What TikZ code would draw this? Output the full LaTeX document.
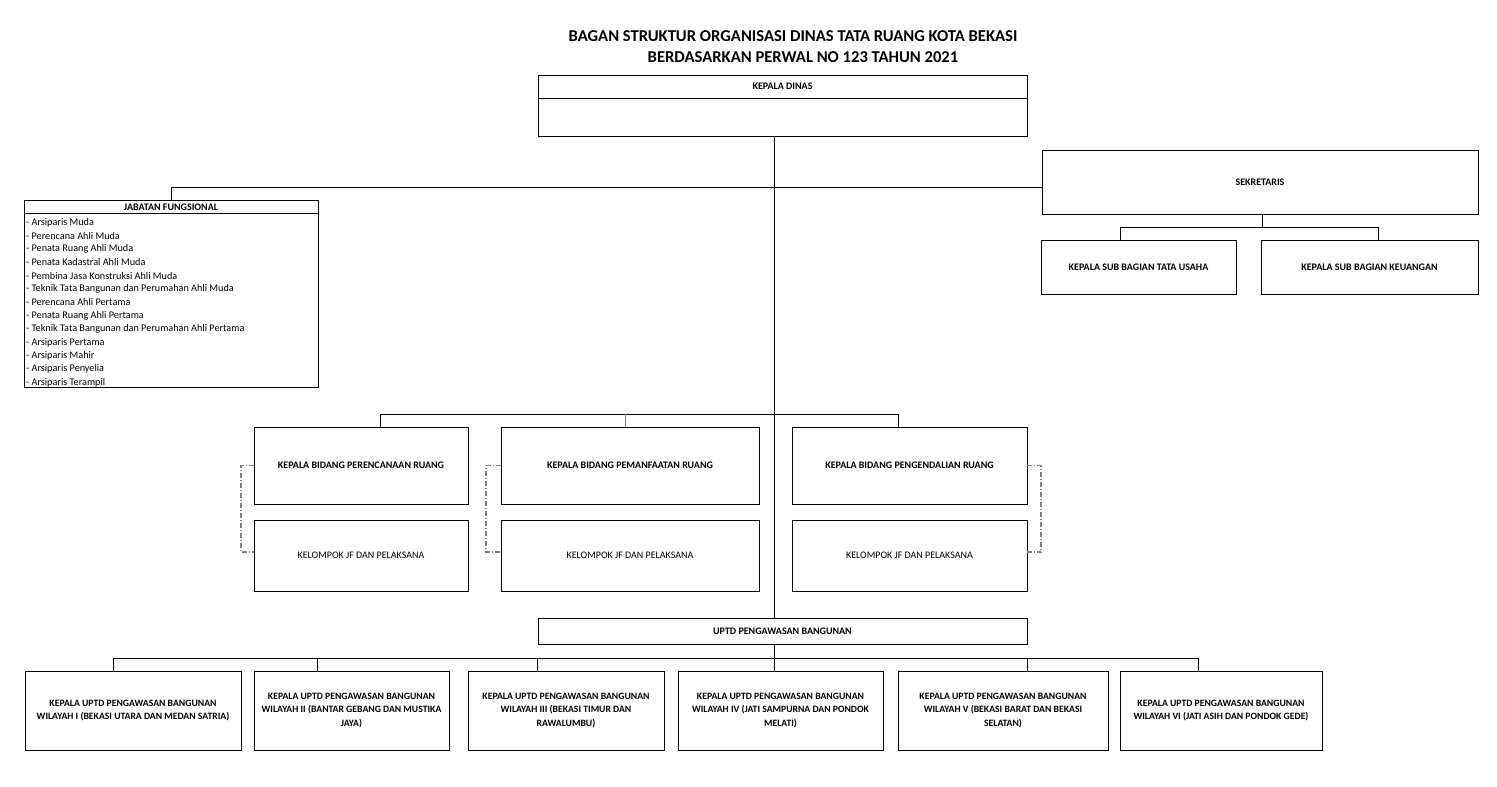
\documentclass[tikz,border=0pt]{standalone}
\usepackage{fontspec}
\setmainfont{Carlito}
\usetikzlibrary{calc}
\tikzset{
 box/.style={draw, line width=1pt, inner sep=0pt, outer sep=0pt, fill=white},
 lbl/.style={font=\fontsize{10}{13.5}\selectfont\bfseries, align=center, inner sep=0pt},
 lbls/.style={font=\fontsize{9.7}{13.5}\selectfont\bfseries, align=center, inner sep=0pt},
 lblr/.style={font=\fontsize{10}{13.5}\selectfont, align=center, inner sep=0pt},
 item/.style={font=\fontsize{10.2}{11}\selectfont, anchor=west, inner sep=0pt},
 conn/.style={line width=1pt},
 dotline/.style={gray, line width=1.1pt, dash pattern=on 5pt off 2pt on 1pt off 2pt},
 ttl/.style={font=\fontsize{16.6}{19}\selectfont\bfseries, inner sep=0pt}
}
\begin{document}
\begin{tikzpicture}[x=1pt,y=-1pt]
\useasboundingbox[fill=white] (0,0) rectangle (1497,787);
% title
\node[ttl] (t1) at (793,36) {BAGAN STRUKTUR ORGANISASI DINAS TATA RUANG KOTA BEKASI};
\node[ttl] (t2) at (803,57) {BERDASARKAN PERWAL NO 123 TAHUN 2021};
% kepala dinas
\node[box, minimum width=489, minimum height=61] (kd) at (782.5,105.5) {};
\draw[conn] ($(kd.north west)+(0,23)$) -- ($(kd.north east)+(0,23)$);
\node[lbl] (kdt) at (782.5,86) {KEPALA DINAS};
% jabatan fungsional
\node[box, minimum width=294, minimum height=187] (jab) at (171,293.5) {};
\draw[conn] ($(jab.north west)+(0,13)$) -- ($(jab.north east)+(0,13)$);
\node[lbl] (jabt) at (171,207) {JABATAN FUNGSIONAL};
\foreach \t [count=\i from 0] in {Arsiparis Muda, Perencana Ahli Muda, Penata Ruang Ahli Muda, Penata Kadastral Ahli Muda, Pembina Jasa Konstruksi Ahli Muda, Teknik Tata Bangunan dan Perumahan Ahli Muda, Perencana Ahli Pertama, Penata Ruang Ahli Pertama, Teknik Tata Bangunan dan Perumahan Ahli Pertama, Arsiparis Pertama, Arsiparis Mahir, Arsiparis Penyelia, Arsiparis Terampil}
  \node[item] (ji\i) at (26, 222.5+13.33*\i) {- \t};
% sekretaris
\node[box, lbl, minimum width=436, minimum height=64] (sek) at (1260,182) {SEKRETARIS};
\node[box, lbl, minimum width=195, minimum height=54] (tu) at (1138.5,267) {KEPALA SUB BAGIAN TATA USAHA};
\node[box, lbl, minimum width=217, minimum height=54] (keu) at (1369.5,267) {KEPALA SUB BAGIAN KEUANGAN};
% bidang
\node[box, lbl, minimum width=214, minimum height=77] (b1) at (361,465.5) {KEPALA BIDANG PERENCANAAN RUANG};
\node[box, lbl, minimum width=258, minimum height=77] (b2) at (630,465.5) {KEPALA BIDANG PEMANFAATAN RUANG};
\node[box, lbl, minimum width=235, minimum height=77] (b3) at (909.5,465.5) {KEPALA BIDANG PENGENDALIAN RUANG};
\node[box, lblr, minimum width=214, minimum height=71] (k1) at (361,555.5) {KELOMPOK JF DAN PELAKSANA};
\node[box, lblr, minimum width=258, minimum height=71] (k2) at (630,555.5) {KELOMPOK JF DAN PELAKSANA};
\node[box, lblr, minimum width=235, minimum height=71] (k3) at (909.5,555.5) {KELOMPOK JF DAN PELAKSANA};
% uptd
\node[box, lbl, minimum width=489, minimum height=26] (uptd) at (782.5,631) {UPTD PENGAWASAN BANGUNAN};
\node[box, lbls, minimum width=216, minimum height=79] (u1) at (133,710.5) {KEPALA UPTD PENGAWASAN BANGUNAN\\WILAYAH I (BEKASI UTARA DAN MEDAN SATRIA)};
\node[box, lbls, minimum width=195, minimum height=79] (u2) at (351.5,710.5) {KEPALA UPTD PENGAWASAN BANGUNAN\\WILAYAH II (BANTAR GEBANG DAN MUSTIKA\\JAYA)};
\node[box, lbls, minimum width=196, minimum height=79] (u3) at (566,710.5) {KEPALA UPTD PENGAWASAN BANGUNAN\\WILAYAH III (BEKASI TIMUR DAN\\RAWALUMBU)};
\node[box, lbls, minimum width=205, minimum height=79] (u4) at (780.5,710.5) {KEPALA UPTD PENGAWASAN BANGUNAN\\WILAYAH IV (JATI SAMPURNA DAN PONDOK\\MELATI)};
\node[box, lbls, minimum width=210, minimum height=79] (u5) at (1003,710.5) {KEPALA UPTD PENGAWASAN BANGUNAN\\WILAYAH V (BEKASI BARAT DAN BEKASI\\SELATAN)};
\node[box, lbls, minimum width=202, minimum height=79] (u6) at (1221,710.5) {KEPALA UPTD PENGAWASAN BANGUNAN\\WILAYAH VI (JATI ASIH DAN PONDOK GEDE)};
% connector coordinates
\coordinate (sp) at (774,0);
\coordinate (hj) at (171,187);
\coordinate (hs) at (1262,227);
\coordinate (hs1) at (1120,227);
\coordinate (hs2) at (1378,227);
\coordinate (hb1) at (380,414);
\coordinate (hb2) at (625,414);
\coordinate (hb3) at (898,414);
\coordinate (d1) at (241,0);
\coordinate (d2) at (486,0);
\coordinate (d3) at (1041,0);
\coordinate (dl) at (0,552);
\coordinate (hu0) at (113,658);
\coordinate (hu1) at (317,658);
\coordinate (hu2) at (537,658);
\coordinate (hu3) at (774,658);
\coordinate (hu4) at (1027,658);
\coordinate (hu5) at (1198,658);
% connectors
\draw[conn] (kd.south -| sp) -- (uptd.north -| sp);
\draw[conn] (jab.north -| hj) -- (hj) -- (hj -| sek.west);
\draw[conn] (sek.south -| hs) -- (hs);
\draw[conn] (hs1 |- tu.north) -- (hs1) -- (hs2) -- (hs2 |- keu.north);
\draw[conn] (hb1 |- b1.north) -- (hb1) -- (hb3) -- (hb3 |- b3.north);
\draw[conn, gray] (hb2) -- (hb2 |- b2.north);
\draw[dotline] (b1.west) -- (b1.west -| d1) -- (dl -| d1) -- (dl -| k1.west);
\draw[dotline] (b2.west) -- (b2.west -| d2) -- (dl -| d2) -- (dl -| k2.west);
\draw[dotline] (b3.east) -- (b3.east -| d3) -- (dl -| d3) -- (dl -| k3.east);
\draw[conn] (uptd.south -| sp) -- (hu3);
\draw[conn] (hu0 |- u1.north) -- (hu0) -- (hu5) -- (hu5 |- u6.north);
\draw[conn] (hu1) -- (hu1 |- u2.north);
\draw[conn] (hu2) -- (hu2 |- u3.north);
\draw[conn] (hu3) -- (hu3 |- u4.north);
\draw[conn] (hu4) -- (hu4 |- u5.north);
\end{tikzpicture}
\end{document}
